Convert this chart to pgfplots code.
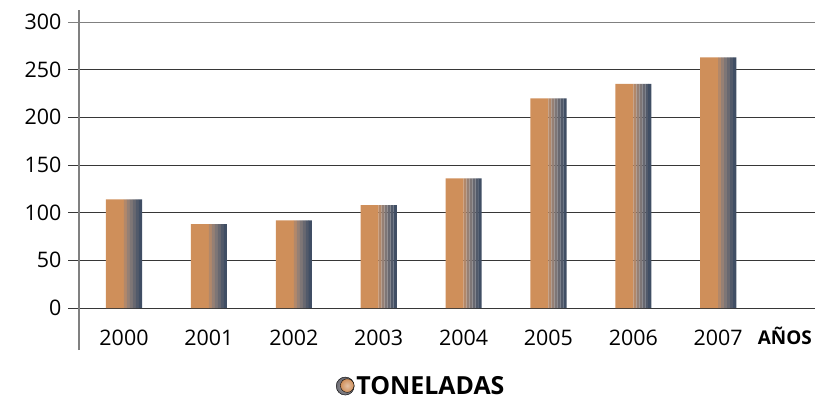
\documentclass[border=0pt]{standalone}
\usepackage{fontspec}
\setmainfont{Open Sans}
\usepackage{pgfplots}
\pgfplotsset{compat=1.18}
\definecolor{barorange}{RGB}{207,143,90}
\definecolor{s1}{RGB}{178,136,106}
\definecolor{s2}{RGB}{150,128,116}
\definecolor{s3}{RGB}{126,118,118}
\definecolor{s4}{RGB}{104,104,112}
\definecolor{s5}{RGB}{82,90,106}
\definecolor{s6}{RGB}{64,78,100}
\definecolor{barblue}{RGB}{62,78,102}
\definecolor{gridc}{RGB}{55,55,55}
\definecolor{axisc}{RGB}{128,128,128}
\pgfplotstableread{
x y
0 114
1 88
2 92
3 108
4 136
5 220
6 235
7 263
}\datatable
\begin{document}
\begin{tikzpicture}
\begin{axis}[
  scale only axis, width=736bp, height=286bp,
  xmin=-0.53, xmax=8.14, ymin=0, ymax=300,
  axis y line=left, axis x line=bottom,
  x axis line style={draw=none},
  y axis line style={draw=axisc, line width=1.2bp, -, shorten <=-42bp, shorten >=-12bp},
  ytick={0,50,...,250},
  extra y ticks={300},
  extra y tick style={grid style={axisc, line width=1bp}, ytick style={axisc}},
  xtick={0,...,7}, xticklabels={2000,2001,2002,2003,2004,2005,2006,2007},
  ymajorgrids, grid style={gridc, line width=1bp},
  major tick length=11bp, tick align=outside,
  ytick style={gridc, line width=1bp}, xtick style={draw=none},
  /pgf/number format/assume math mode=true,
  tick label style={font=\fontsize{21.5}{25}\selectfont},
  yticklabel style={xshift=-3bp},
  xticklabel style={yshift=-7bp},
  xlabel={AÑOS},
  xlabel style={at={(axis description cs:0.959,0)}, anchor=base, yshift=-36bp, font=\bfseries\fontsize{19}{22}\selectfont},
  legend style={at={(axis description cs:0.465,-0.273)}, anchor=center, draw=none, fill=none, font=\bfseries\fontsize{25}{29}\selectfont},
  legend cell align=left,
  clip=false,
]
\addplot[ybar, bar width=18bp, bar shift=-9bp, fill=barorange, draw=none, forget plot] table[x=x,y=y] {\datatable};
\addplot[ybar, bar width=3bp, bar shift=1.5bp, fill=s1, draw=none, forget plot] table[x=x,y=y] {\datatable};
\addplot[ybar, bar width=3bp, bar shift=4.5bp, fill=s2, draw=none, forget plot] table[x=x,y=y] {\datatable};
\addplot[ybar, bar width=3bp, bar shift=7.5bp, fill=s3, draw=none, forget plot] table[x=x,y=y] {\datatable};
\addplot[ybar, bar width=3bp, bar shift=10.5bp, fill=s4, draw=none, forget plot] table[x=x,y=y] {\datatable};
\addplot[ybar, bar width=3bp, bar shift=13.5bp, fill=s5, draw=none, forget plot] table[x=x,y=y] {\datatable};
\addplot[ybar, bar width=3.2bp, bar shift=16.5bp, fill=s6, draw=none, forget plot] table[x=x,y=y] {\datatable};
\addlegendimage{legend image code/.code={
  \shade[inner color=s3!60!white, outer color=s4] (4bp,0) circle (9bp);
  \shade[inner color=barorange!55!white, outer color=barorange] (6bp,0.5bp) circle (6.8bp);}}
\addlegendentry{TONELADAS}
\coordinate (O) at (rel axis cs:0,0);
\end{axis}
\pgfresetboundingbox
\path (O) ++(-79bp,-92bp) rectangle ++(817bp,400bp);
\end{tikzpicture}
\end{document}
